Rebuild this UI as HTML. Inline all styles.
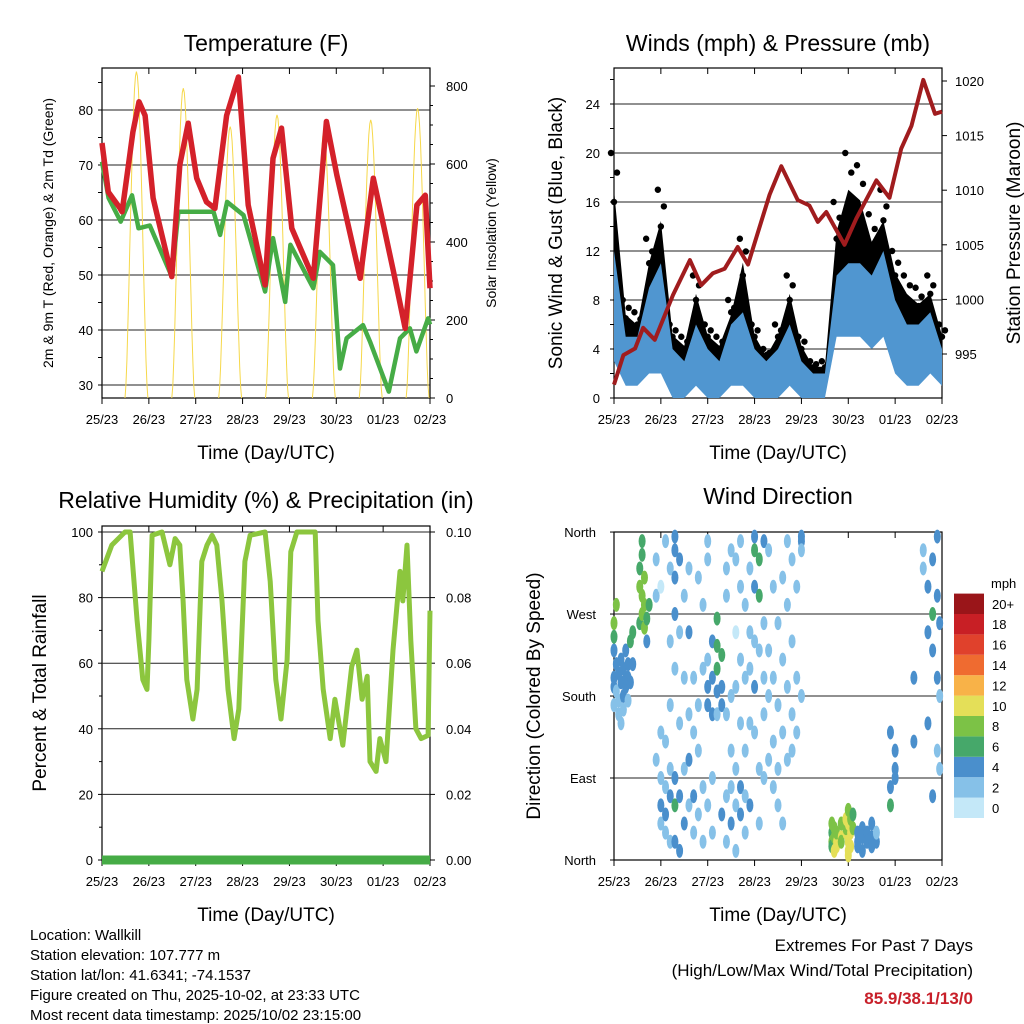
<!DOCTYPE html>
<html><head><meta charset="utf-8">
<style>
body{margin:0;background:#fff;}
svg{display:block;font-family:"Liberation Sans",Arial,sans-serif;}
</style></head>
<body>
<svg id="c" width="1024" height="1024" viewBox="0 0 1024 1024" xmlns="http://www.w3.org/2000/svg"></svg>
<script>
// ---------- DATA ----------
const dayLabels = ["25/23","26/23","27/23","28/23","29/23","30/23","01/23","02/23"];
// Temperature (F)
const tempT = [0,0.135,0.38,0.43,0.66,0.79,0.92,1.09,1.49,1.66,1.84,2.02,2.23,2.41,2.66,2.91,3.12,3.48,3.65,3.83,4.05,4.51,4.79,5.01,5.51,5.79,6.01,6.22,6.47,6.72,6.9,7.0];
const tempV = [74,65.1,62.2,61.5,76,81.5,79,64,49.7,70,77.6,67.6,63.3,62.1,79,86,62.7,48.2,71.2,76.7,58.5,49.4,77.9,68.2,49.4,67.6,59,50.6,40.3,62.7,64.5,47.6];
const dewT = [0,0.14,0.4,0.64,0.78,1.02,1.49,1.63,1.95,2.38,2.52,2.67,3.02,3.48,3.65,3.91,4.02,4.51,4.65,4.93,5.08,5.22,5.57,5.72,6.12,6.36,6.57,6.71,6.96,7.0];
const dewV = [70.6,64,59.7,64.5,58.5,59,49.7,61.5,61.5,61.5,57.3,63.3,60.9,47,56.7,45.1,55.5,47.6,54.2,51.8,33,38.5,40.9,37.9,28.8,38.5,40.3,36.1,42.1,41];
const solarPeak = [837,794,696,726,683,713,743];
const tempTicks = [30,40,50,60,70,80];
const solarTicks = [0,200,400,600,800];
// Winds (mph) & pressure (mb)
const windT = [0,0.25,0.5,0.75,1,1.25,1.5,1.75,2,2.25,2.5,2.75,3,3.25,3.5,3.75,4,4.25,4.5,4.75,5,5.25,5.5,5.75,6,6.25,6.5,6.75,7];
const windLow = [3,1,1,2,2,0,0,1,0,0,1,1,0,0,0,1,0,0,0,5,5,5,4,5,2,1,1,2,1];
const windHigh = [12,5,5,9,11,4,3,6,4,3,6,7,4,3,4,6,3,2,2,10,11,11,10,12,8,6,6,7,4];
const gustHigh = [20,8,7,13,17,6,5,10,6,5,8,13,6,4,6,10,5,3,3,16,20,19,15,17,12,10,9,10,6];
const presT = [0,0.2,0.45,0.62,0.87,1.26,1.62,1.86,2.11,2.36,2.64,2.86,3.32,3.57,3.92,4.17,4.35,4.53,4.92,5.17,5.6,5.88,6.13,6.35,6.6,6.85,7.0];
const presV = [992.2,994.9,995.5,997.4,996.3,1000.4,1003.6,1001.3,1002.4,1002.8,1004.8,1003.2,1009.6,1012.2,1009.1,1008.6,1007.1,1008.0,1005.0,1007.4,1010.9,1009.3,1013.8,1015.9,1020.1,1017.0,1017.2];
const windTicks = [0,4,8,12,16,20,24];
const presTicks = [995,1000,1005,1010,1015,1020];
// Relative humidity (%)
const rhT = [0,0.21,0.49,0.6,0.75,0.87,0.96,1.0,1.07,1.28,1.45,1.56,1.66,1.73,1.81,1.94,2.03,2.13,2.24,2.35,2.45,2.56,2.69,2.82,2.92,3.05,3.16,3.48,3.59,3.71,3.82,3.95,4.03,4.16,4.55,4.61,4.72,4.87,4.97,5.14,5.33,5.44,5.55,5.66,5.72,5.85,5.93,6.06,6.21,6.36,6.42,6.51,6.59,6.7,6.81,6.96,7.0];
const rhV = [88,96,100,100,73,55,52,67,99,100,90,98,96,79,55,43,52,91,96,99,96,79,52,37,46,91,99,100,85,55,43,61,94,100,100,73,52,37,49,35,59,64,49,56,30,27,37,30,64,88,79,96,67,40,37,38,76];
const rhTicks = [0,20,40,60,80,100];
const precipTicks = ["0.00","0.02","0.04","0.06","0.08","0.10"];
// Wind direction (deg) colored by speed
const dirT = [0,0,0,0,0,0,0.05,0.05,0.05,0.1,0.1,0.1,0.15,0.15,0.15,0.2,0.2,0.2,0.25,0.25,0.25,0.3,0.3,0.3,0.35,0.35,0.4,0.4,0.55,0.55,0.55,0.6,0.6,0.6,0.6,0.65,0.65,0.65,0.7,0.7,0.75,
0.9,0.9,0.9,1,1,1,1,1,1.1,1.1,1.1,1.1,1.1,1.2,1.2,1.2,1.2,1.2,1.2,1.3,1.3,1.3,1.3,1.3,1.3,1.3,1.3,1.4,1.4,1.4,1.4,1.4,1.5,1.5,1.5,1.5,1.6,1.6,1.6,1.6,1.6,1.7,1.7,1.7,1.7,1.8,1.8,1.8,1.8,1.9,1.9,1.9,1.9,
2,2,2,2,2,2,2.1,2.1,2.1,2.1,2.1,2.2,2.2,2.2,2.2,2.2,2.3,2.3,2.3,2.3,2.4,2.4,2.4,2.4,2.4,2.5,2.5,2.5,2.5,2.5,2.6,2.6,2.6,2.6,2.6,2.6,2.7,2.7,2.7,2.7,2.7,2.7,2.8,2.8,2.8,2.8,2.8,2.9,2.9,2.9,2.9,2.9,
3,3,3,3,3,3,3.1,3.1,3.1,3.1,3.1,3.2,3.2,3.2,3.2,3.2,3.3,3.3,3.3,3.3,3.4,3.4,3.4,3.4,3.5,3.5,3.5,3.5,3.6,3.6,3.6,3.6,3.7,3.7,3.7,3.7,3.8,3.8,3.8,3.8,3.9,3.9,3.9,4,4,4,4,
4.65,4.65,4.65,4.65,4.7,4.7,4.7,4.75,4.75,4.75,4.85,4.85,4.85,4.95,4.95,4.95,5,5,5,5,5,5.05,5.05,5.05,5.1,5.1,5.2,5.2,5.2,5.3,5.3,5.3,5.4,5.4,5.5,5.5,5.5,5.6,5.6,
5.9,5.9,5.9,6,6,6,6.4,6.4,6.6,6.6,6.7,6.7,6.7,6.8,6.8,6.8,6.8,6.9,6.9,6.9,6.9,6.95,6.95,6.95];
const dirD = [200,230,260,245,190,170,215,185,280,205,175,160,195,220,150,210,180,165,190,230,200,200,175,215,240,195,215,250,260,300,320,270,290,335,350,255,280,310,265,240,280,
330,110,290,300,140,90,60,40,350,130,80,50,30,320,170,100,70,20,240,355,340,310,270,210,90,60,20,330,250,150,70,10,290,200,100,40,320,250,160,110,60,200,140,70,30,310,170,120,50,280,210,80,20,
350,330,220,190,170,60,240,200,160,90,30,265,235,210,185,160,225,190,170,50,320,290,160,70,20,340,180,120,80,40,330,250,190,100,60,10,350,300,220,150,80,50,280,200,120,70,30,320,250,210,150,60,
355,340,300,240,190,140,330,290,230,100,40,350,260,200,160,90,340,230,180,110,300,200,130,80,260,170,100,60,310,220,140,40,350,280,190,110,330,240,160,120,300,200,140,350,355,340,180,
30,20,40,15,25,10,35,20,30,15,25,40,20,30,35,45,40,55,20,5,10,45,30,15,35,50,30,20,15,25,35,10,30,20,25,15,40,20,30,
140,80,60,120,100,90,130,200,340,320,300,250,150,330,270,230,70,355,290,200,120,260,180,100];
const dirS = [3,4,7,6,3,2,4,2,8,3,2,1,3,4,2,4,3,2,3,4,3,4,2,3,5,3,4,6,6,7,6,8,7,6,5,8,7,7,6,4,6,
1,2,2,0,1,2,3,2,1,1,2,3,2,1,1,2,3,2,1,3,4,3,4,2,4,5,4,3,2,2,3,3,1,1,2,3,1,3,2,3,2,1,2,3,2,1,2,1,2,1,1,2,1,
2,1,2,4,3,2,4,3,3,2,2,5,6,5,4,2,5,4,3,3,2,1,1,2,2,2,1,1,2,3,1,0,1,1,2,2,1,1,1,1,3,3,1,2,1,2,1,2,2,1,1,3,
4,5,3,2,3,1,6,5,2,1,2,3,2,1,1,2,1,2,1,1,1,2,1,1,1,1,1,2,1,1,1,1,1,1,1,1,1,1,1,1,1,1,1,3,4,2,1,
6,7,8,6,8,9,7,9,8,10,9,8,7,9,8,10,9,8,9,10,9,8,10,9,7,6,4,3,4,4,3,4,4,3,3,4,3,3,2,
3,4,5,4,3,4,3,4,2,2,4,3,4,4,5,4,3,3,4,3,2,3,2,2];
const dirTickLabels = ["North","East","South","West","North"];
const spdLabels = ["0","2","4","6","8","10","12","14","16","18","20+"];
const spdColors = ["#c4e8f8","#86c1e8","#4a8fcc","#46a86a","#7cc246","#e4df58","#f8b248","#ef6b30","#e0412c","#c81f25","#9a1519"];

// ---------- HELPERS ----------
const NS="http://www.w3.org/2000/svg";
const svg=document.getElementById('c');
function mk(tag,attrs,parent){const e=document.createElementNS(NS,tag);for(const k in attrs)e.setAttribute(k,attrs[k]);(parent||svg).appendChild(e);return e;}
function txt(s,x,y,size,anchor,parent,extra){const e=mk('text',Object.assign({x:x,y:y,'font-size':size,'text-anchor':anchor||'middle',fill:'#000'},extra||{}),parent);e.textContent=s;return e;}
const W=328,DAYS=7;
function xs(x0){return t=>x0+t*W/DAYS;}
function poly(ts,vs,fx,fy){return ts.map((t,i)=>fx(t).toFixed(1)+','+fy(vs[i]).toFixed(1)).join(' ');}

function frame(x0,y0,h,name){
  const g=mk('g',{});
  
  
  mk('rect',{x:x0,y:y0,width:W,height:h,fill:'none',stroke:'#000','stroke-width':1.2},g);
  const fx=xs(x0);
  for(let i=0;i<=DAYS;i++){const x=fx(i);
    mk('line',{x1:x,y1:y0,x2:x,y2:y0+6,stroke:'#000'},g);
    mk('line',{x1:x,y1:y0+h,x2:x,y2:y0+h+6,stroke:'#000'},g);
    const l=txt(dayLabels[i],x,y0+h+26,13,'middle',g);
    
    
  }
  const xl=txt('Time (Day/UTC)',x0+W/2,y0+h+61,19,'middle',g);
  
  
  return g;
}
function hgrid(x0,y,g){mk('line',{x1:x0,y1:y,x2:x0+W,y2:y,stroke:'#222','stroke-width':1},g);}
function vtitle(s,x,y,size,name){const e=txt(s,x,y,size,'middle',svg,{transform:`rotate(-90 ${x} ${y})`});}
function title(s,x,y,name){const e=txt(s,x,y,23,'middle');}

// ---------- PANEL 1: Temperature ----------
(function(){
  const x0=102,y0=68,h=330;const fx=xs(x0);
  const fy=v=>385-(v-30)*5.5, fs=w=>398-w*0.39;
  const g=frame(x0,y0,h,'temperature');
  tempTicks.forEach(v=>{hgrid(x0,fy(v),g);const l=txt(v,93,fy(v)+5,13,'end',g);});
  for(let v=30;v<=85;v+=5){mk('line',{x1:x0-4,y1:fy(v),x2:x0,y2:fy(v),stroke:'#000'},g);}
  solarTicks.forEach(v=>{mk('line',{x1:x0+W,y1:fs(v),x2:x0+W+5,y2:fs(v),stroke:'#000'},g);const l=txt(v,446,fs(v)+5,13,'start',g);});
  for(let v=50;v<=800;v+=50){mk('line',{x1:x0+W,y1:fs(v),x2:x0+W+3,y2:fs(v),stroke:'#000'},g);}
  solarPeak.forEach((p,d)=>{const pts=[];for(let k=0;k<=24;k++){const t=d+0.49+0.49*k/24;const v=p*Math.pow(Math.sin(Math.PI*k/24),1.6);pts.push(fx(t).toFixed(1)+','+fs(v).toFixed(1));}
    const e=mk('polyline',{points:pts.join(' '),fill:'none',stroke:'#f6d84a','stroke-width':1});
    
    });
  const dw=mk('polyline',{points:poly(dewT,dewV,fx,fy),fill:'none',stroke:'#46ac46','stroke-width':4.5,'stroke-linejoin':'round'});
  
  
  const tl=mk('polyline',{points:poly(tempT,tempV,fx,fy),fill:'none',stroke:'#d4212a','stroke-width':5.5,'stroke-linejoin':'round'});
  
  
  title('Temperature (F)',266,51,'temperature-title');
  vtitle('2m & 9m T (Red, Orange) & 2m Td (Green)',53,233,14,'temperature-y-axis-title');
  vtitle('Solar Insolation (Yellow)',496,233,14,'solar-y-axis-title');
})();

// ---------- PANEL 2: Winds ----------
(function(){
  const x0=614,y0=68,h=330;const fx=xs(x0);
  const fy=v=>398-v*12.25, fp=p=>354-(p-995)*10.92;
  const g=frame(x0,y0,h,'winds');
  windTicks.forEach(v=>{if(v>0)hgrid(x0,fy(v),g);const l=txt(v,600,fy(v)+5,13,'end',g);});
  for(let v=0;v<=26;v+=2){mk('line',{x1:x0-4,y1:fy(v),x2:x0,y2:fy(v),stroke:'#000'},g);}
  presTicks.forEach(v=>{mk('line',{x1:x0+W,y1:fp(v),x2:x0+W+5,y2:fp(v),stroke:'#000'},g);const l=txt(v,955,fp(v)+5,13,'start',g);});
  const up=windT.map((t,i)=>fx(t).toFixed(1)+','+fy(gustHigh[i]*0.85).toFixed(1));
  const lo=windT.map((t,i)=>fx(t).toFixed(1)+','+fy(windHigh[i]*0.9).toFixed(1)).reverse();
  const gb=mk('polygon',{points:up.concat(lo).join(' '),fill:'#000'});
  
  
  windT.forEach((t,i)=>{[gustHigh[i],(gustHigh[i]+windHigh[i])/2,gustHigh[i]*0.92].forEach((v,k)=>{
    const c=mk('circle',{cx:fx(t)+(k-1)*3,cy:fy(v),r:3.2,fill:'#000'});
    
    });});
  const bu=windT.map((t,i)=>fx(t).toFixed(1)+','+fy(windHigh[i]).toFixed(1));
  const bl=windT.map((t,i)=>fx(t).toFixed(1)+','+fy(windLow[i]).toFixed(1)).reverse();
  const wb=mk('polygon',{points:bu.concat(bl).join(' '),fill:'#5096d0'});
  
  
  const pl=mk('polyline',{points:poly(presT,presV,fx,fp),fill:'none',stroke:'#a01c1e','stroke-width':4,'stroke-linejoin':'round'});
  
  
  title('Winds (mph) & Pressure (mb)',778,51,'winds-title');
  vtitle('Sonic Wind & Gust (Blue, Black)',562,233,19,'wind-y-axis-title');
  vtitle('Station Pressure (Maroon)',1020,233,19,'pressure-y-axis-title');
})();

// ---------- PANEL 3: Humidity ----------
(function(){
  const x0=102,y0=526,h=334;const fx=xs(x0);
  const fy=v=>860-v*3.28;
  const g=frame(x0,y0,h,'humidity');
  rhTicks.forEach((v,i)=>{hgrid(x0,fy(v),g);mk('line',{x1:x0-4,y1:fy(v),x2:x0,y2:fy(v),stroke:'#000'},g);
    const l=txt(v,93,fy(v)+5,13,'end',g);
    mk('line',{x1:x0+W,y1:fy(v),x2:x0+W+5,y2:fy(v),stroke:'#000'},g);
    const r=txt(precipTicks[i],446,fy(v)+5,13,'start',g);});
  for(let v=10;v<=100;v+=20){mk('line',{x1:x0-3,y1:fy(v),x2:x0,y2:fy(v),stroke:'#000'},g);}
  const rl=mk('polyline',{points:poly(rhT,rhV,fx,fy),fill:'none',stroke:'#8cc63e','stroke-width':5,'stroke-linejoin':'round'});
  
  
  const pr=mk('line',{x1:x0,y1:fy(0),x2:x0+W,y2:fy(0),stroke:'#46ac46','stroke-width':9});
  
  
  title('Relative Humidity (%) & Precipitation (in)',266,508,'humidity-title');
  vtitle('Percent & Total Rainfall',46,693,19,'humidity-y-axis-title');
})();

// ---------- PANEL 4: Wind direction ----------
(function(){
  const x0=614,y0=532,h=328;const fx=xs(x0);
  const fy=d=>860-d*0.911;
  const g=frame(x0,y0,h,'wind-direction');
  dirTickLabels.forEach((s,i)=>{const y=fy(i*90);if(i>0&&i<4)hgrid(x0,y,g);mk('line',{x1:x0-4,y1:y,x2:x0,y2:y,stroke:'#000'},g);
    const l=txt(s,596,y+5,13,'end',g);});
  const clr=s=>spdColors[Math.min(10,Math.max(0,Math.round(s/2)))];
  dirT.forEach((t,i)=>{const c=mk('ellipse',{cx:fx(t),cy:fy(dirD[i]),rx:3.5,ry:7,fill:clr(dirS[i])});
    
    });
  title('Wind Direction',778,504,'direction-title');
  vtitle('Direction (Colored By Speed)',540,696,19,'direction-y-axis-title');
  const cb=mk('g',{});
  
  
  const bh=20.4;
  spdColors.forEach((c,i)=>{const y=818-(i+1)*bh;mk('rect',{x:954,y:y,width:30,height:bh,fill:c},cb);
    const l=txt(spdLabels[i],992,y+bh/2+5,13,'start',cb);});
  const m=txt('mph',991,588,13,'start',cb);
})();

// ---------- FOOTER ----------
const info=["Location: Wallkill","Station elevation: 107.777 m","Station lat/lon: 41.6341; -74.1537","Figure created on Thu, 2025-10-02, at 23:33 UTC","Most recent data timestamp: 2025/10/02 23:15:00"];
info.forEach((s,i)=>{const e=txt(s,30,940+i*20,15,'start');});
let e=txt('Extremes For Past 7 Days',973,951,17,'end');
e=txt('(High/Low/Max Wind/Total Precipitation)',973,976,17,'end');
e=txt('85.9/38.1/13/0',973,1004,17,'end',svg,{fill:'#c8202a','font-weight':'bold'});
</script>
</body></html>
